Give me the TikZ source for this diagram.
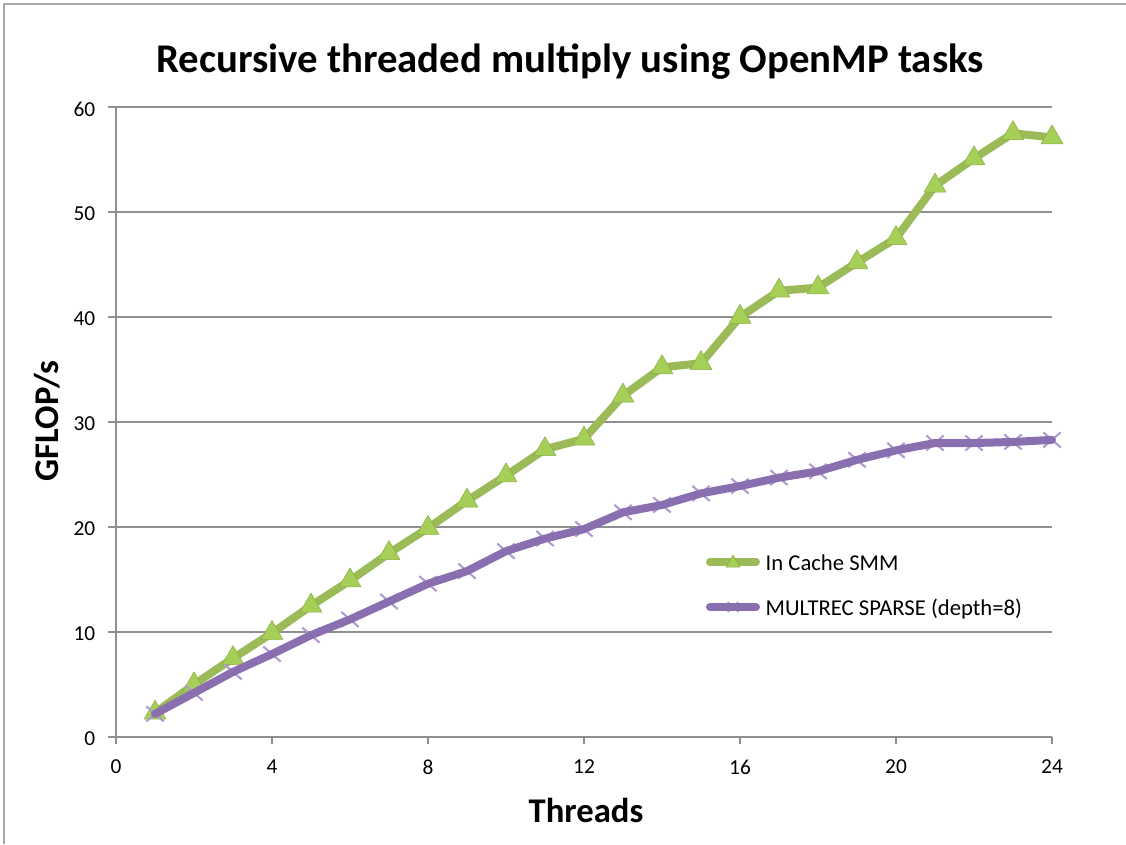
\documentclass[tikz,border=0pt]{standalone}
\usepackage{fontspec}
\setmainfont{Carlito}
\usepackage{xcolor}
\usetikzlibrary{plotmarks}
\definecolor{gridgray}{HTML}{8F8F8F}
\definecolor{framegray}{HTML}{A8A8A8}
\definecolor{smmgreen}{HTML}{9BBB59}
\definecolor{smmfill}{HTML}{A6CF58}
\definecolor{smmdraw}{HTML}{8CAD4A}
\definecolor{mulpurple}{HTML}{8A6FB0}
\definecolor{mulmark}{HTML}{B09CD0}

\begin{document}
\begin{tikzpicture}[x=0.75pt,y=-0.75pt,
  gridline/.style={gridgray,line width=1.1pt},
  axisline/.style={gridgray,line width=1.3pt},
  ticklabel/.style={font=\fontsize{16}{19}\selectfont},
  legendtext/.style={font=\fontsize{17}{20}\selectfont,anchor=base west},
  axislabel/.style={font=\bfseries\fontsize{26}{30}\selectfont},
  smmline/.style={smmgreen,line width=6pt,line join=round,line cap=round},
  mulline/.style={mulpurple,line width=6pt,line join=round,line cap=round},
  smmmark/.style={mark=triangle*,mark size=#1,mark options={fill=smmfill,draw=smmdraw,line width=0.4pt}},
  mulmarks/.style={mark=x,mark size=#1,mark options={mulmark,line width=1.6pt,xscale=1.15}}]
\useasboundingbox (0,0) rectangle (1126,844);
% frame
\draw[framegray,line width=1.5pt] (4,844) -- (4,4) -- (1126,4);
% title
\node[anchor=base,font=\bfseries\fontsize{30.6}{36}\selectfont] (title) at (570,72)
  {Recursive threaded multiply using OpenMP tasks};
% grid and y axis
\foreach \v in {0,10,...,60}{
  \draw[gridline] (108,{737-10.5*\v}) -- (1052,{737-10.5*\v});
  \node[ticklabel,anchor=east] (ylab\v) at (100,{739-10.5*\v}) {\v};
}
\draw[axisline] (116,107) -- (116,737);
% x axis ticks
\foreach \t in {0,4,...,24}{
  \draw[axisline] ({116+39*\t},737) -- ({116+39*\t},744);
  \node[ticklabel] (xlab\t) at ({116+39*\t},767) {\t};
}
\node[axislabel,anchor=base] (xtitle) at (586,822) {Threads};
\node[axislabel,anchor=base,rotate=90] (ytitle) at (58,421) {GFLOP/s};
% data
\begin{scope}[shift={(87pt,-552.75pt)},x=29.25pt,y=7.875pt]
\draw[smmline] plot[smmmark=9.5pt] coordinates {(1,2.3) (2,5.0) (3,7.5) (4,9.9)
  (5,12.5) (6,14.9) (7,17.5) (8,19.9) (9,22.5) (10,24.9) (11,27.4) (12,28.4)
  (13,32.5) (14,35.2) (15,35.6) (16,40.0) (17,42.5) (18,42.8) (19,45.2)
  (20,47.5) (21,52.5) (22,55.1) (23,57.5) (24,57.1)};
\path plot[mulmarks=8pt,only marks] coordinates {(1,2.2) (2,4.2) (3,6.2) (4,7.9)
  (5,9.7) (6,11.2) (7,12.9) (8,14.6) (9,15.8) (10,17.7) (11,18.9) (12,19.8)
  (13,21.4) (14,22.1) (15,23.2) (16,23.9) (17,24.7) (18,25.3) (19,26.4)
  (20,27.3) (21,28.0) (22,28.0) (23,28.1) (24,28.3)};
\draw[mulline] plot coordinates {(1,2.2) (2,4.2) (3,6.2) (4,7.9)
  (5,9.7) (6,11.2) (7,12.9) (8,14.6) (9,15.8) (10,17.7) (11,18.9) (12,19.8)
  (13,21.4) (14,22.1) (15,23.2) (16,23.9) (17,24.7) (18,25.3) (19,26.4)
  (20,27.3) (21,28.0) (22,28.0) (23,28.1) (24,28.3)};
\end{scope}
% legend
\draw[smmline] (710,562) -- (756,562);
\path plot[smmmark=6pt,only marks] coordinates {(733,563)};
\node[legendtext] (smmlab) at (761,570) {In Cache SMM};
\path plot[mulmarks=5pt,only marks] coordinates {(733,607)};
\draw[mulline] (710,607) -- (756,607);
\node[legendtext] (mullab) at (761,615) {MULTREC SPARSE (depth=8)};
\end{tikzpicture}
\end{document}
